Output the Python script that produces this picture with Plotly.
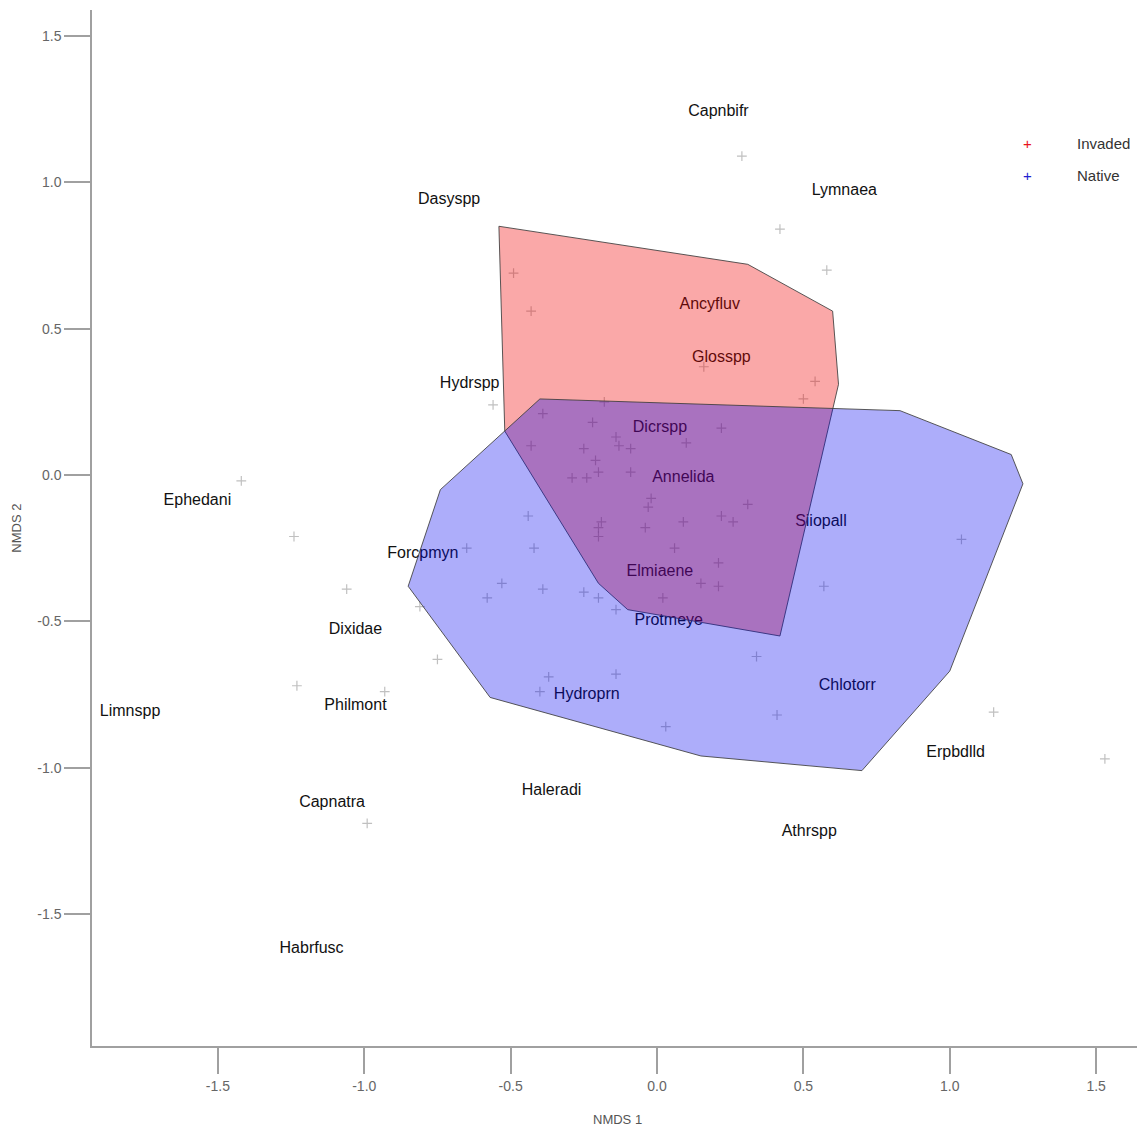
import plotly.graph_objects as go

# ---------------- data ----------------
site_x = [0.29, 0.42, 0.58, -0.49, -0.43, 0.16, 0.54, 0.50, -0.56, -1.42, -1.24, -1.06,
          1.04, 1.53, 1.15, -1.23, -0.93, -0.99, -0.75, -0.81, -0.65, 0.41, 0.34, 0.57,
          0.03, -0.37, -0.40, -0.14,
          -0.18, -0.39, -0.22, 0.22, -0.43, -0.14, -0.13, -0.09, -0.25, 0.10, -0.21, -0.20,
          -0.29, -0.24, -0.09, -0.02, -0.03, 0.31, -0.44, -0.19, -0.04, 0.09, 0.22, 0.26,
          -0.20, -0.20, -0.42, 0.06, 0.21, -0.53, -0.39, -0.25, -0.20, 0.02, 0.15, 0.21,
          -0.58, -0.14]
site_y = [1.09, 0.84, 0.70, 0.69, 0.56, 0.37, 0.32, 0.26, 0.24, -0.02, -0.21, -0.39,
          -0.22, -0.97, -0.81, -0.72, -0.74, -1.19, -0.63, -0.45, -0.25, -0.82, -0.62, -0.38,
          -0.86, -0.69, -0.74, -0.68,
          0.25, 0.21, 0.18, 0.16, 0.10, 0.13, 0.10, 0.09, 0.09, 0.11, 0.05, 0.01,
          -0.01, -0.01, 0.01, -0.08, -0.11, -0.10, -0.14, -0.16, -0.18, -0.16, -0.14, -0.16,
          -0.18, -0.21, -0.25, -0.25, -0.30, -0.37, -0.39, -0.40, -0.42, -0.42, -0.37, -0.38,
          -0.42, -0.46]

species = ["Capnbifr", "Lymnaea", "Dasyspp", "Ancyfluv", "Glosspp", "Hydrspp", "Dicrspp",
           "Annelida", "Ephedani", "Siiopall", "Forcpmyn", "Elmiaene", "Protmeye", "Dixidae",
           "Chlotorr", "Hydroprn", "Philmont", "Limnspp", "Erpbdlld", "Haleradi", "Capnatra",
           "Athrspp", "Habrfusc"]
species_x = [0.21, 0.64, -0.71, 0.18, 0.22, -0.64, 0.01, 0.09, -1.57, 0.56, -0.80, 0.01,
             0.04, -1.03, 0.65, -0.24, -1.03, -1.80, 1.02, -0.36, -1.11, 0.52, -1.18]
species_y = [1.24, 0.97, 0.94, 0.58, 0.40, 0.31, 0.16, -0.01, -0.09, -0.16, -0.27, -0.33,
             -0.50, -0.53, -0.72, -0.75, -0.79, -0.81, -0.95, -1.08, -1.12, -1.22, -1.62]

invaded_hull_x = [-0.54, 0.31, 0.60, 0.62, 0.42, -0.10, -0.20, -0.52]
invaded_hull_y = [0.85, 0.72, 0.56, 0.31, -0.55, -0.46, -0.37, 0.15]

native_hull_x = [-0.40, 0.83, 1.21, 1.25, 1.00, 0.70, 0.15, -0.57, -0.85, -0.74]
native_hull_y = [0.26, 0.22, 0.07, -0.03, -0.67, -1.01, -0.96, -0.76, -0.38, -0.05]

groups = ["Invaded", "Native"]
group_colors = ["#e8141c", "#2020d0"]

tick_vals = [-1.5, -1.0, -0.5, 0.0, 0.5, 1.0, 1.5]
tick_text = ["-1.5", "-1.0", "-0.5", "0.0", "0.5", "1.0", "1.5"]

# ---------------- figure ----------------
fig = go.Figure()

fig.add_trace(go.Scatter(
    x=site_x, y=site_y, mode="markers", showlegend=False, hoverinfo="skip",
    marker=dict(symbol="cross-thin", size=7,
                line=dict(color="rgba(150,150,150,0.6)", width=1.2))))

fig.add_trace(go.Scatter(
    x=species_x, y=species_y, mode="text", text=species, showlegend=False,
    textfont=dict(family="Liberation Sans, Arial, sans-serif", size=16, color="#111"),
    textposition="middle center"))

fig.add_trace(go.Scatter(
    x=invaded_hull_x + invaded_hull_x[:1], y=invaded_hull_y + invaded_hull_y[:1],
    mode="lines", fill="toself", fillcolor="rgba(240,0,0,0.34)", showlegend=False,
    line=dict(color="rgba(60,60,60,0.85)", width=1), hoverinfo="skip"))

fig.add_trace(go.Scatter(
    x=native_hull_x + native_hull_x[:1], y=native_hull_y + native_hull_y[:1],
    mode="lines", fill="toself", fillcolor="rgba(0,0,240,0.32)", showlegend=False,
    line=dict(color="rgba(60,60,60,0.85)", width=1), hoverinfo="skip"))

# legend drawn as annotations
leg_y = [0.8716, 0.8407]
for g, c, yy in zip(groups, group_colors, leg_y):
    fig.add_annotation(x=0.888, y=yy, xref="paper", yref="paper", text="+",
                       showarrow=False, font=dict(family="Liberation Sans", size=15, color=c),
                       xanchor="center", yanchor="middle")
    fig.add_annotation(x=0.9335, y=yy, xref="paper", yref="paper", text=g,
                       showarrow=False,
                       font=dict(family="Liberation Sans, Arial", size=15, color="#333"),
                       xanchor="left", yanchor="middle")

# axis titles
fig.add_annotation(x=0.499, y=-0.0714, xref="paper", yref="paper", text="NMDS 1",
                   showarrow=False, xanchor="center", yanchor="middle",
                   font=dict(family="Liberation Sans Narrow, Arial Narrow, sans-serif",
                             size=13, color="#555"))
fig.add_annotation(x=-0.0725, y=0.5, xref="paper", yref="paper", text="NMDS 2",
                   showarrow=False, xanchor="center", yanchor="middle", textangle=-90,
                   font=dict(family="Liberation Sans Narrow, Arial Narrow, sans-serif",
                             size=13, color="#555"))

axis_common = dict(showgrid=False, zeroline=False, showline=True, linecolor="#a0a0a0",
                   linewidth=1.5, ticks="outside", ticklen=26, tickcolor="#a0a0a0",
                   tickwidth=1.5, tickvals=tick_vals, ticktext=tick_text,
                   tickfont=dict(family="Liberation Sans Narrow, Arial Narrow, sans-serif",
                                 size=14, color="#666"))

fig.update_layout(
    width=1137, height=1125,
    margin=dict(l=84, r=0, t=2, b=87),
    plot_bgcolor="white", paper_bgcolor="white",
    xaxis=dict(range=[-1.930, 1.667], **axis_common),
    yaxis=dict(range=[-1.951, 1.589], **axis_common),
    showlegend=False,
)

fig.write_html("out.html")
